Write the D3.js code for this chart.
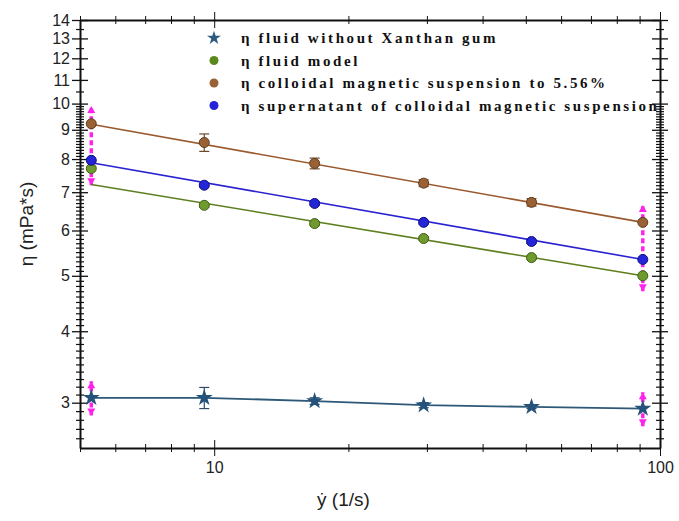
<!DOCTYPE html>
<html>
<head>
<meta charset="utf-8">
<script src="https://cdn.jsdelivr.net/npm/d3@7"></script>
<style>
  body { margin: 0; background: #fff; }
  .axis text { font-family: "Liberation Sans", Arial, sans-serif; font-size: 16px; fill: #222; }
  .axis path, .axis line { stroke: #111; }
  .legend text { font-family: "Liberation Serif", "Times New Roman", serif; font-weight: bold; font-size: 15px; fill: #111; }
</style>
</head>
<body>
<div id="chart-area"></div>
<script>

// data
let shearRates = [5.3, 9.5, 16.8, 29.5, 51.5, 91.5];
let etaXanthanFree = [3.06, 3.06, 3.02, 2.97, 2.95, 2.93];
let etaModel = [7.7, 6.64, 6.17, 5.81, 5.38, 5.0];
let etaColloid = [9.22, 8.55, 7.86, 7.26, 6.72, 6.2];
let etaSupernatant = [7.96, 7.2, 6.69, 6.2, 5.74, 5.34];

// small error bars (+/-)
let errXanthanFree = [0, 0.13, 0.04, 0.03, 0.02, 0];
let errModel = [0, 0.05, 0.05, 0.04, 0.04, 0];
let errColloid = [0, 0.3, 0.17, 0.1, 0.1, 0];
let errSupernatant = [0, 0.05, 0.05, 0.04, 0.04, 0];

// power law fits, values at first and last shear rate
let fitModel = [7.22, 5.0];
let fitColloid = [9.2, 6.2];
let fitSupernatant = [7.88, 5.34];

// magenta range markers at the ends [low, high]
let rangeLeft = [7.2, 9.9];
let rangeRight = [4.7, 6.65];
let rangeStarLeft = [2.85, 3.27];
let rangeStarRight = [2.73, 3.13];

let yMajor = [3, 4, 5, 6, 7, 8, 9, 10, 11, 12, 13, 14];
let xMajor = [10, 100];

let legendLabels = [
  "\u03b7 fluid without Xanthan gum",
  "\u03b7 fluid model",
  "\u03b7 colloidal magnetic suspension to 5.56%",
  "\u03b7 supernatant of colloidal magnetic suspension"
];

// SVG drawing area
let margin = {top: 20, right: 19, bottom: 73, left: 80};
let width = 679 - margin.left - margin.right,
    height = 521 - margin.top - margin.bottom;

let svg = d3.select("#chart-area").append("svg")
    .attr("width", 679)
    .attr("height", 521)
  .append("g")
    .attr("transform", "translate(" + margin.left + "," + margin.top + ")");

// Scales
let x = d3.scaleLog().domain([5, 100]).range([0, width]);
let y = d3.scaleLog().domain([2.5, 14]).range([height, 0]);

// minor ticks
let yMinor = d3.range(26, 100).map(d => d / 10).concat(d3.range(20, 28).map(d => d / 2))
  .filter(d => yMajor.indexOf(d) < 0);
let xMinor = [5, 6, 7, 8, 9, 20, 30, 40, 50, 60, 70, 80, 90];

function crossTicksX(g, len) {
  g.selectAll(".tick line").attr("y1", -len).attr("y2", len);
}

// left axis
svg.append("g").attr("class", "axis")
  .call(d3.axisLeft(y).tickValues(yMinor).tickSize(0).tickFormat(""))
  .call(g => g.selectAll(".tick line").attr("x1", -4).attr("x2", 4).attr("stroke-width", 1.2));
svg.append("g").attr("class", "axis")
  .call(d3.axisLeft(y).tickValues(yMajor).tickSize(0).tickPadding(10).tickFormat(d3.format("d")))
  .call(g => g.selectAll(".tick line").attr("x1", -8).attr("x2", 8).attr("stroke-width", 1.3))
  .call(g => g.select(".domain").attr("stroke-width", 2));

// right axis
svg.append("g").attr("class", "axis")
  .attr("transform", "translate(" + width + ",0)")
  .call(d3.axisRight(y).tickValues(yMinor).tickSize(0).tickFormat(""))
  .call(g => g.selectAll(".tick line").attr("x1", -4).attr("x2", 4).attr("stroke-width", 1.2));
svg.append("g").attr("class", "axis")
  .attr("transform", "translate(" + width + ",0)")
  .call(d3.axisRight(y).tickValues(yMajor).tickSize(0).tickFormat(""))
  .call(g => g.selectAll(".tick line").attr("x1", -8).attr("x2", 8).attr("stroke-width", 1.3))
  .call(g => g.select(".domain").attr("stroke-width", 2));

// bottom axis
svg.append("g").attr("class", "axis")
  .attr("transform", "translate(0," + height + ")")
  .call(d3.axisBottom(x).tickValues(xMinor).tickSize(0).tickFormat(""))
  .call(g => crossTicksX(g, 4))
  .call(g => g.select(".domain").attr("stroke-width", 2));
svg.append("g").attr("class", "axis")
  .attr("transform", "translate(0," + height + ")")
  .call(d3.axisBottom(x).tickValues(xMajor).tickSize(0).tickPadding(14).tickFormat(d3.format("d")))
  .call(g => crossTicksX(g, 8))
  .call(g => g.select(".domain").remove());

// top axis
svg.append("g").attr("class", "axis")
  .call(d3.axisTop(x).tickValues(xMinor).tickSize(0).tickFormat(""))
  .call(g => crossTicksX(g, 4))
  .call(g => g.select(".domain").attr("stroke-width", 2));
svg.append("g").attr("class", "axis")
  .call(d3.axisTop(x).tickValues(xMajor).tickSize(0).tickFormat(""))
  .call(g => crossTicksX(g, 8))
  .call(g => g.select(".domain").remove());

// axis titles
svg.append("text")
  .attr("transform", "translate(-47," + (height / 2 - 10) + ") rotate(-90)")
  .attr("text-anchor", "middle")
  .style("font-family", "'Liberation Sans', Arial, sans-serif")
  .style("font-size", "19px")
  .attr("fill", "#222")
  .text("\u03b7 (mPa*s)");

svg.append("text")
  .attr("x", x(19.5))
  .attr("y", height + 58)
  .attr("text-anchor", "middle")
  .style("font-family", "'Liberation Sans', Arial, sans-serif")
  .style("font-size", "19px")
  .attr("fill", "#222")
  .text("\u1e8f (1/s)");

// magenta range markers
let ranges = [
  [shearRates[0], rangeLeft], [shearRates[5], rangeRight],
  [shearRates[0], rangeStarLeft], [shearRates[5], rangeStarRight]
];
ranges.forEach(function(r) {
  let xx = x(r[0]);
  svg.append("line")
    .attr("x1", xx).attr("x2", xx)
    .attr("y1", y(r[1][0])).attr("y2", y(r[1][1]))
    .attr("stroke", "#ff22ee").attr("stroke-width", 3.5)
    .attr("stroke-dasharray", "5,3");
  [r[1][0], r[1][1]].forEach(function(v, i) {
    let yy = y(v), dir = i == 0 ? 1 : -1;
    svg.append("path")
      .attr("d", "M" + (xx - 4) + "," + (yy - dir * 7) + "L" + xx + "," + yy + "L" + (xx + 4) + "," + (yy - dir * 7) + "Z")
      .attr("fill", "#ff22ee");
  });
});

// fit lines
let fits = [
  {fit: fitModel, color: "#5f7f1f"},
  {fit: fitColloid, color: "#9a5a2e"},
  {fit: fitSupernatant, color: "#2a22d0"}
];
fits.forEach(function(f) {
  svg.append("line")
    .attr("x1", x(shearRates[0])).attr("x2", x(shearRates[5]))
    .attr("y1", y(f.fit[0])).attr("y2", y(f.fit[1]))
    .attr("stroke", f.color).attr("stroke-width", 1.6);
});

// star series line
svg.append("path")
  .datum(shearRates.map((d, i) => [d, etaXanthanFree[i]]))
  .attr("d", d3.line().x(d => x(d[0])).y(d => y(d[1])))
  .attr("fill", "none").attr("stroke", "#2d5878").attr("stroke-width", 1.8);

// error bars
function errBars(vals, errs, color) {
  shearRates.forEach(function(s, i) {
    if (!errs[i]) return;
    let xx = x(s), y0 = y(vals[i] - errs[i]), y1 = y(vals[i] + errs[i]);
    svg.append("line").attr("x1", xx).attr("x2", xx).attr("y1", y0).attr("y2", y1)
      .attr("stroke", color).attr("stroke-width", 1.2);
    [y0, y1].forEach(function(yy) {
      svg.append("line").attr("x1", xx - 5).attr("x2", xx + 5).attr("y1", yy).attr("y2", yy)
        .attr("stroke", color).attr("stroke-width", 1.2);
    });
  });
}
errBars(etaColloid, errColloid, "#6b4a2a");
errBars(etaModel, errModel, "#4d6a1a");
errBars(etaSupernatant, errSupernatant, "#1a1a90");
errBars(etaXanthanFree, errXanthanFree, "#2d4a68");

// markers
let circleSeries = [
  {vals: etaModel, fill: "#6e9a2e", stroke: "#3f5f14"},
  {vals: etaColloid, fill: "#9a6234", stroke: "#5e3a1c"},
  {vals: etaSupernatant, fill: "#2424d8", stroke: "#10107a"}
];
circleSeries.forEach(function(s) {
  svg.selectAll(null)
    .data(shearRates)
    .enter().append("circle")
    .attr("cx", d => x(d))
    .attr("cy", (d, i) => y(s.vals[i]))
    .attr("r", 5)
    .attr("fill", s.fill)
    .attr("stroke", s.stroke)
    .attr("stroke-width", 1);
});

let star = d3.symbol().type(d3.symbolStar).size(90);
svg.selectAll(".star")
  .data(shearRates)
  .enter().append("path")
  .attr("class", "star")
  .attr("transform", (d, i) => "translate(" + x(d) + "," + y(etaXanthanFree[i]) + ")")
  .attr("d", star)
  .attr("fill", "#24527a");

// legend
let legendColors = ["#2d5a80", "#5a8a1e", "#9a6234", "#2424d8"];
let legend = svg.append("g").attr("class", "legend")
  .attr("transform", "translate(134,18)");
legendLabels.forEach(function(lab, i) {
  let row = legend.append("g").attr("transform", "translate(0," + (i * 22.5) + ")");
  if (i == 0) {
    row.append("path").attr("d", d3.symbol().type(d3.symbolStar).size(60))
      .attr("fill", legendColors[i]);
  } else {
    row.append("circle").attr("r", 4.5).attr("fill", legendColors[i]);
  }
  row.append("text")
    .attr("x", 27)
    .attr("y", 5)
    .style("letter-spacing", "2.6px")
    .text(lab);
});

</script>
</body>
</html>
